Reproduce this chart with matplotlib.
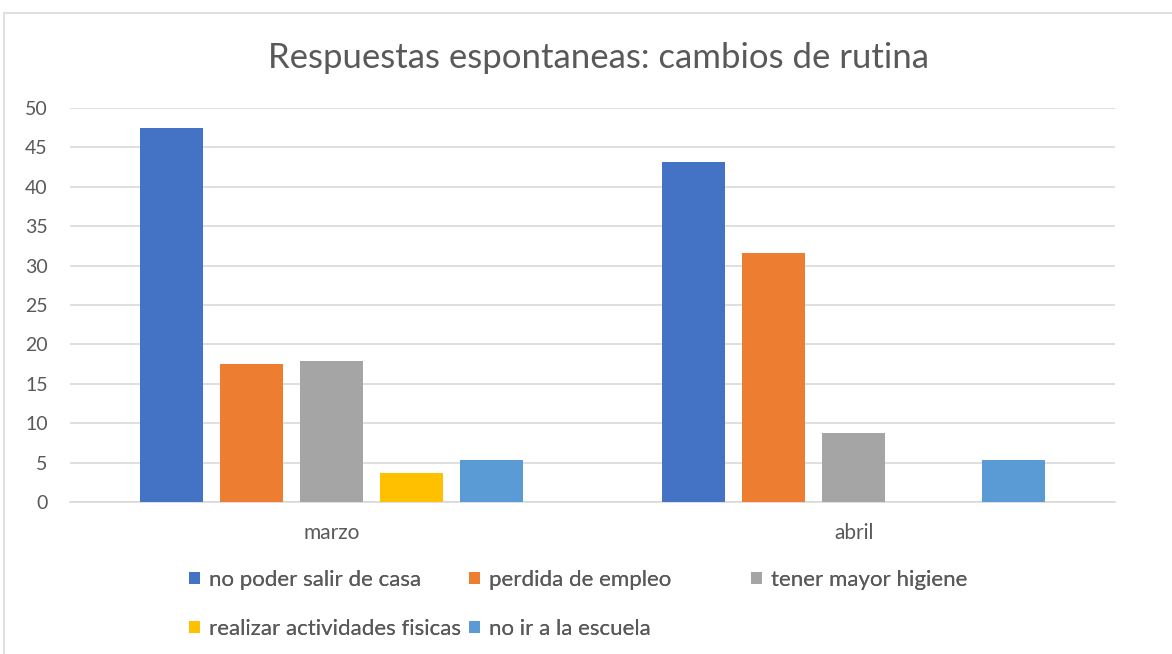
import numpy as np
import matplotlib.pyplot as plt
from matplotlib.patches import Rectangle

plt.rcParams["font.family"] = ["Lato", "DejaVu Sans"]

categories = ["marzo", "abril"]
series = [
    "no poder salir de casa",
    "perdida de empleo",
    "tener mayor higiene",
    "realizar actividades fisicas",
    "no ir a la escuela",
]
values = [
    [47.4, 43.1],
    [17.5, 31.6],
    [17.9, 8.7],
    [3.7, 0.0],
    [5.3, 5.3],
]
colors = ["#4472C4", "#ED7D31", "#A5A5A5", "#FFC000", "#5B9BD5"]
text_color = "#595959"
grid_color = "#D9D9D9"

W, H = 1172, 654
fig = plt.figure(figsize=(W / 100, H / 100), dpi=100)
ax = fig.add_axes([70 / W, 1 - 502 / H, 1045 / W, 394 / H])

# chart border
fig.patches.append(Rectangle((4 / W, -0.1), 1.2, 1 - 13 / H + 0.1, transform=fig.transFigure,
                             fill=False, edgecolor=grid_color, lw=1.2))

x = np.arange(len(categories))
step = 80 / 522.5
width = 63 / 522.5
handles = []
for i, (name, vals) in enumerate(zip(series, values)):
    b = ax.bar(x + (i - 2) * step, vals, width, color=colors[i], label=name, zorder=3)
    handles.append(b)

ax.set_xlim(-0.5, 1.5)
ax.set_ylim(0, 50)
ax.set_yticks(np.arange(0, 51, 5))
ax.set_xticks(x)
ax.set_xticklabels(categories)
ax.yaxis.grid(True, color=grid_color, lw=1.2, zorder=0)
for s in ["top", "right", "left"]:
    ax.spines[s].set_visible(False)
ax.spines["bottom"].set_color(grid_color)
ax.spines["bottom"].set_linewidth(1.2)
ax.tick_params(axis="both", length=0, colors=text_color)
ax.tick_params(axis="y", pad=16, labelsize=14)
ax.tick_params(axis="x", pad=15, labelsize=15)

fig.text(598 / W, 1 - 58 / H, "Respuestas espontaneas: cambios de rutina", ha="center", va="center",
         fontsize=25, color=text_color)

# legend, laid out in columns like the original
cols = [([0, 3], 189), ([1, 4], 469), ([2], 751)]
for idx, xpos in cols:
    leg = fig.legend([handles[k] for k in idx], [series[k] for k in idx], loc="upper left",
                     bbox_to_anchor=(xpos / W, 1 - 570 / H), frameon=False, fontsize=16,
                     handlelength=0.5, handleheight=0.5, handletextpad=0.4, borderpad=0,
                     borderaxespad=0, labelspacing=1.3, labelcolor=text_color)
    fig.add_artist(leg)

fig.savefig("out.png", dpi=100, facecolor="white")
